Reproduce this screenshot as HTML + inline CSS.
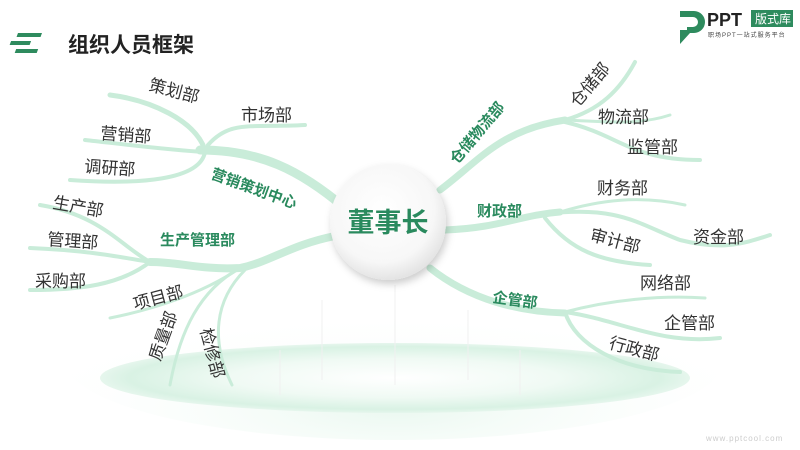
<!DOCTYPE html>
<html><head><meta charset="utf-8"><style>
html,body{margin:0;padding:0;background:#fff;}
body{width:800px;height:450px;overflow:hidden;position:relative;font-family:"Liberation Sans","Noto Sans CJK SC",sans-serif;}
svg{position:absolute;left:0;top:0;}
.t{font-family:"Liberation Sans","Noto Sans CJK SC",sans-serif;font-size:17px;fill:#333;}
.g{font-family:"Liberation Sans","Noto Sans CJK SC",sans-serif;font-size:15px;font-weight:bold;fill:#2a8a5e;}
</style></head><body>
<svg width="800" height="450" viewBox="0 0 800 450">
<defs>
<radialGradient id="el" cx="50%" cy="50%" r="50%">
<stop offset="0" stop-color="#ffffff"/><stop offset="0.55" stop-color="#f0faf4"/><stop offset="0.9" stop-color="#d9f2e4"/><stop offset="1" stop-color="#e6f6ed"/>
</radialGradient>
<radialGradient id="glow" cx="50%" cy="80%" r="60%">
<stop offset="0" stop-color="#eaf8f0"/><stop offset="1" stop-color="#ffffff" stop-opacity="0"/>
</radialGradient>
<radialGradient id="cg" cx="45%" cy="40%" r="60%">
<stop offset="0" stop-color="#ffffff"/><stop offset="0.75" stop-color="#f7f7f7"/><stop offset="1" stop-color="#e4e4e4"/>
</radialGradient>
<filter id="sh" x="-30%" y="-30%" width="160%" height="160%"><feDropShadow dx="2" dy="4" stdDeviation="4" flood-color="#000" flood-opacity="0.2"/></filter>
</defs>
<!-- bottom platform -->
<ellipse cx="395" cy="360" rx="330" ry="80" fill="url(#glow)"/>
<ellipse cx="395" cy="378" rx="295" ry="35" fill="url(#el)"/>
<g stroke="#f0f0f0" stroke-width="1">
<line x1="322" y1="300" x2="322" y2="380"/><line x1="395" y1="285" x2="395" y2="385"/><line x1="468" y1="310" x2="468" y2="380"/><line x1="280" y1="350" x2="280" y2="395"/><line x1="520" y1="350" x2="520" y2="395"/>
</g>
<!-- header -->
<g fill="#2e8b5e"><rect x="30" y="33" width="24" height="4" transform="skewX(-20)" /><rect x="26" y="41" width="20" height="4" transform="skewX(-20)"/><rect x="34" y="49" width="22" height="4" transform="skewX(-20)"/></g>
<text x="68" y="52" style="font-family:'Liberation Sans','Noto Sans CJK SC',sans-serif;font-size:21px;font-weight:bold;fill:#222">组织人员框架</text>
<!-- logo -->
<path d="M680 11 h14 a11 11 0 0 1 0 22 h-4 l-10 11 v-14 h7 v-3 h6 a5 5 0 0 0 0 -10 h-13z" fill="#2e8b5e"/>
<text x="707" y="26" style="font-family:'Liberation Sans',sans-serif;font-size:18px;font-weight:bold;fill:#222">PPT</text>
<rect x="751" y="10" width="42" height="17" fill="#2e8b5e"/>
<text x="755" y="23" style="font-family:'Liberation Sans','Noto Sans CJK SC',sans-serif;font-size:12px;fill:#fff">版式库</text>
<text x="708" y="37" style="font-family:'Liberation Sans','Noto Sans CJK SC',sans-serif;font-size:6px;fill:#444;letter-spacing:1px">职场PPT一站式服务平台</text>
<!-- branches -->
<g fill="none" stroke="#c9ecd9" stroke-linecap="round">
<path d="M345 208 C300 170 260 150 200 150" stroke-width="9"/>
<path d="M205 150 C195 120 150 100 110 95" stroke-width="5"/>
<path d="M205 152 C170 150 130 145 85 140" stroke-width="4"/>
<path d="M205 152 C200 180 140 185 70 180" stroke-width="4"/>
<path d="M208 145 C230 120 250 128 305 125" stroke-width="4"/>
<path d="M335 236 C290 245 270 262 240 268 C200 270 180 262 150 262" stroke-width="8"/>
<path d="M150 262 C120 245 100 215 40 205" stroke-width="4"/>
<path d="M150 262 C110 255 80 250 30 248" stroke-width="4"/>
<path d="M150 262 C120 285 80 290 30 290" stroke-width="4"/>
<path d="M240 268 C200 295 150 310 110 318" stroke-width="3"/>
<path d="M240 268 C200 290 180 330 170 385" stroke-width="3"/>
<path d="M245 270 C215 300 210 340 232 385" stroke-width="3"/>
<path d="M440 190 C480 160 500 130 565 120" stroke-width="7"/>
<path d="M565 120 C600 110 620 90 635 62" stroke-width="4"/>
<path d="M565 120 C610 122 640 125 670 115" stroke-width="3"/>
<path d="M565 122 C620 135 630 160 700 160" stroke-width="4"/>
<path d="M445 230 C500 228 520 215 560 212" stroke-width="7"/>
<path d="M560 212 C600 200 640 195 685 205" stroke-width="3"/>
<path d="M545 214 C620 205 640 225 680 240 C720 250 740 245 770 235" stroke-width="4"/>
<path d="M545 218 C570 250 600 262 650 265" stroke-width="4"/>
<path d="M430 268 C470 300 520 312 565 313" stroke-width="7"/>
<path d="M565 312 C610 300 660 295 705 298" stroke-width="3"/>
<path d="M565 312 C620 320 660 345 720 338" stroke-width="4"/>
<path d="M565 312 C575 345 620 370 680 372" stroke-width="4"/>
</g>
<!-- center -->
<circle cx="388" cy="222" r="58" fill="url(#cg)" filter="url(#sh)"/>
<text x="388" y="232" text-anchor="middle" style="font-family:'Liberation Sans','Noto Sans CJK SC',sans-serif;font-size:27px;font-weight:bold;fill:#2a8a5e">董事长</text>
<!-- group labels -->
<text class="g" transform="translate(210,178) rotate(20)">营销策划中心</text>
<text class="g" x="160" y="245">生产管理部</text>
<text class="g" transform="translate(457,165) rotate(-50)">仓储物流部</text>
<text class="g" x="477" y="216">财政部</text>
<text class="g" x="492" y="302" transform="rotate(8 492 302)">企管部</text>
<!-- leaf labels -->
<text class="t" transform="translate(148,90) rotate(15)">策划部</text>
<text class="t" x="241" y="121">市场部</text>
<text class="t" x="100" y="139" transform="rotate(4 100 139)">营销部</text>
<text class="t" x="84" y="172" transform="rotate(4 84 172)">调研部</text>
<text class="t" x="52" y="208" transform="rotate(10 52 208)">生产部</text>
<text class="t" x="47" y="245" transform="rotate(4 47 245)">管理部</text>
<text class="t" x="35" y="287">采购部</text>
<text class="t" x="135" y="310" transform="rotate(-15 135 310)">项目部</text>
<text class="t" transform="translate(160,362) rotate(-70)">质量部</text>
<text class="t" transform="translate(200,330) rotate(75)">检修部</text>
<text class="t" transform="translate(578,108) rotate(-50)">仓储部</text>
<text class="t" x="598" y="123">物流部</text>
<text class="t" x="627" y="153">监管部</text>
<text class="t" x="597" y="194">财务部</text>
<text class="t" x="693" y="243">资金部</text>
<text class="t" x="589" y="240" transform="rotate(15 589 240)">审计部</text>
<text class="t" x="640" y="289">网络部</text>
<text class="t" x="664" y="329">企管部</text>
<text class="t" x="608" y="348" transform="rotate(15 608 348)">行政部</text>
<text x="706" y="441" style="font-family:'Liberation Sans',sans-serif;font-size:8px;fill:#ccc;letter-spacing:1px">www.pptcool.com</text>
</svg>
</body></html>
